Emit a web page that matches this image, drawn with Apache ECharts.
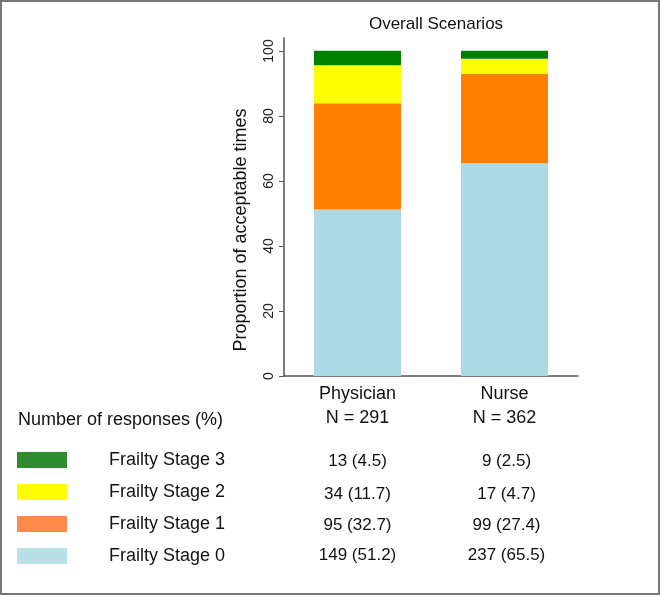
<!DOCTYPE html>
<html>
<head>
<meta charset="utf-8">
<script src="https://cdn.jsdelivr.net/npm/echarts@6/dist/echarts.min.js"></script>
<style>html,body{margin:0;padding:0;background:#fff}#c{width:661px;height:596px}</style>
</head>
<body>
<div id="c"></div>
<script>
const categories = ['Physician', 'Nurse'];
const totalN = [291, 362];
const stages = ['Frailty Stage 0', 'Frailty Stage 1', 'Frailty Stage 2', 'Frailty Stage 3'];
const physicianCounts = [149, 95, 34, 13];
const physicianPct = [51.2, 32.7, 11.7, 4.5];
const nurseCounts = [237, 99, 17, 9];
const nursePct = [65.5, 27.4, 4.7, 2.5];
const yTicks = [0, 20, 40, 60, 80, 100];

const barColors = ['#add8e6', '#ff8000', '#ffff00', '#008000'];
const legendColors = ['#b8e0e6', '#ff8a4c', '#ffff00', '#2e8b30'];
const FONT = 'Liberation Sans, Arial, sans-serif';

const chart = echarts.init(document.getElementById('c'));

const series = stages.map((s, i) => ({
  name: s,
  type: 'bar',
  stack: 'all',
  barWidth: 87,
  itemStyle: { color: barColors[i] },
  data: [physicianPct[i], nursePct[i]],
  emphasis: { disabled: true }
}));

chart.setOption({
  animation: false,
  textStyle: { fontFamily: FONT },
  title: {
    text: 'Overall Scenarios',
    left: 431, top: 11, textAlign: 'center',
    textStyle: { fontSize: 17, fontWeight: 'normal', color: '#111', fontFamily: FONT }
  },
  grid: { left: 284, right: 83, top: 38, bottom: 220, containLabel: false },
  xAxis: {
    type: 'category',
    data: categories,
    axisLine: { lineStyle: { color: '#555', width: 1.5 } },
    axisTick: { show: false },
    axisLabel: {
      margin: 6,
      fontSize: 18, color: '#111', lineHeight: 24, fontFamily: FONT,
      formatter: (v, idx) => v + '\nN = ' + totalN[idx]
    }
  },
  yAxis: {
    type: 'value',
    min: 0, max: 104, interval: 20,
    splitLine: { show: false },
    axisLine: { show: true, lineStyle: { color: '#555', width: 1.5 } },
    axisTick: { show: true, length: 5, customValues: yTicks, lineStyle: { color: '#555' } },
    axisLabel: {
      customValues: yTicks,
      rotate: 90, margin: 8, fontSize: 14, color: '#222', fontFamily: FONT
    }
  },
  legend: {
    orient: 'vertical',
    left: 17, top: 451, padding: 0,
    itemWidth: 50, itemHeight: 16, itemGap: 14,
    icon: 'rect',
    selectedMode: false,
    textStyle: { fontSize: 18, color: '#111', padding: [0, 0, 0, 37], fontFamily: FONT },
    data: [3, 2, 1, 0].map(i => ({ name: stages[i], itemStyle: { color: legendColors[i] } }))
  },
  series: series
});

// table of counts and percentages positioned on the category axis
const rowY = { 3: 461, 2: 494, 1: 525, 0: 555 };
const colX = categories.map(c => chart.convertToPixel({ xAxisIndex: 0 }, c));
const graphics = [
  { type: 'rect', shape: { x: 1, y: 1, width: 658, height: 593 }, style: { fill: 'none', stroke: '#777', lineWidth: 2 }, silent: true },
  { type: 'text', x: 18, y: 420, style: { text: 'Number of responses (%)', fontSize: 18, fill: '#111', fontFamily: FONT, verticalAlign: 'middle' } },
  { type: 'text', x: 241, y: 230, rotation: Math.PI / 2, style: { text: 'Proportion of acceptable times', fontSize: 18, fill: '#111', fontFamily: FONT, align: 'center', verticalAlign: 'middle' } }
];
stages.forEach((s, i) => {
  const vals = [[physicianCounts[i], physicianPct[i]], [nurseCounts[i], nursePct[i]]];
  vals.forEach((v, j) => {
    graphics.push({
      type: 'text', x: colX[j] + (j === 1 ? 2 : 0), y: rowY[i],
      style: { text: v[0] + ' (' + v[1] + ')', fontSize: 17, fill: '#111', fontFamily: FONT, align: 'center', verticalAlign: 'middle' }
    });
  });
});
chart.setOption({ graphic: graphics });
</script>
</body>
</html>
